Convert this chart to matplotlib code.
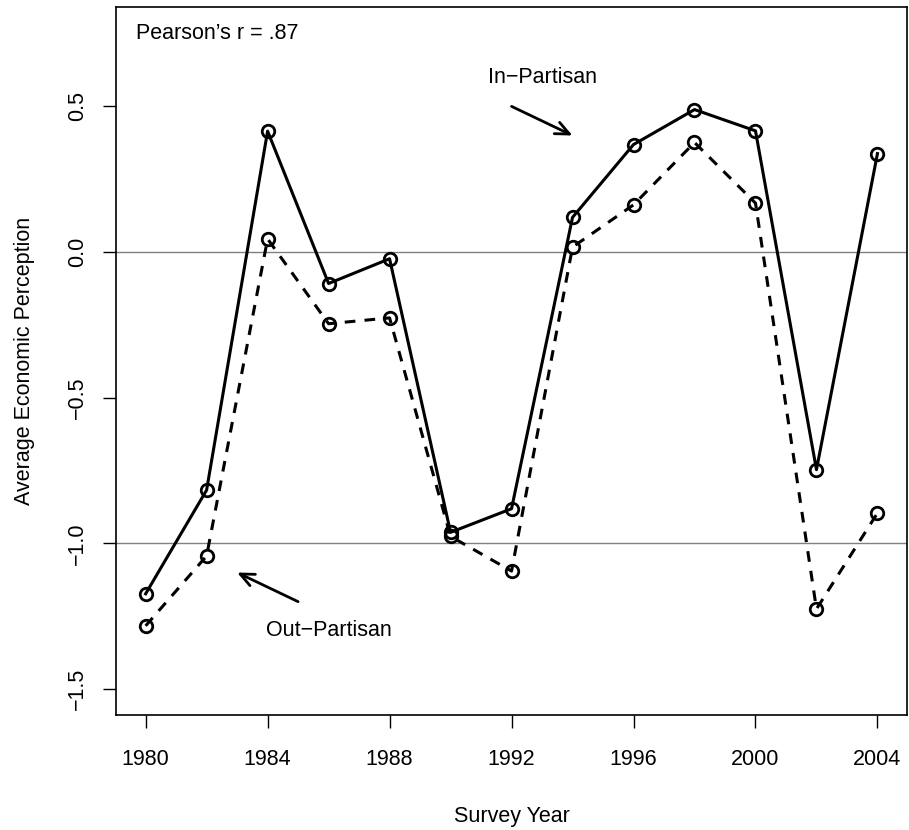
import matplotlib
matplotlib.use("Agg")
import matplotlib.pyplot as plt

plt.rcParams['font.family'] = ['Liberation Sans', 'DejaVu Sans']

years = [1980, 1982, 1984, 1986, 1988, 1990, 1992, 1994, 1996, 1998, 2000, 2002, 2004]
in_partisan = [-1.173, -0.817, 0.415, -0.108, -0.023, -0.962, -0.881,
               0.119, 0.369, 0.489, 0.416, -0.747, 0.338]
out_partisan = [-1.283, -1.043, 0.045, -0.246, -0.226, -0.976, -1.095,
                0.017, 0.162, 0.376, 0.168, -1.225, -0.896]

xticks = [1980, 1984, 1988, 1992, 1996, 2000, 2004]
yticks = [-1.5, -1.0, -0.5, 0.0, 0.5]
fs = 15.5

fig = plt.figure(figsize=(9.09, 8.30), dpi=100)
ax = fig.add_axes([0.128, 0.1382, 0.8695, 0.8530])

ax.axhline(0, color='#808080', lw=1.0, zorder=1)
ax.axhline(-1, color='#808080', lw=1.0, zorder=1)

ax.plot(years, in_partisan, color='black', lw=2.2, marker='o', ms=9,
        mfc='none', mec='black', mew=2.0, zorder=3)
ax.plot(years, out_partisan, color='black', lw=2.2, ls=(0, (3.5, 3.0)),
        marker='o', ms=9, mfc='none', mec='black', mew=2.0, zorder=3)

ax.set_xlim(1979.04, 2004.96)
ax.set_ylim(-1.59, 0.84)
ax.set_xticks(xticks)
ax.set_yticks(yticks)
ax.set_xticklabels([str(x) for x in xticks], fontsize=fs)
ax.set_yticklabels([f"{y:.1f}".replace("-", "\u2212") for y in yticks],
                   fontsize=fs, rotation=90, va='center')
ax.tick_params(axis='both', direction='out', length=9.5, width=1.0, pad=11)
ax.tick_params(axis='x', pad=15)
for s in ax.spines.values():
    s.set_linewidth(1.2)

ax.set_xlabel("Survey Year", fontsize=fs, labelpad=26)
ax.set_ylabel("Average Economic Perception", fontsize=fs, labelpad=23)

ax.text(1979.67, 0.75, "Pearson\u2019s r = .87", fontsize=fs, ha='left', va='center')

ax.text(1993, 0.6, "In\u2212Partisan", fontsize=fs, ha='center', va='center')
ax.annotate("", xy=(1994, 0.4), xytext=(1992, 0.5),
            arrowprops=dict(arrowstyle='->,head_length=1.0,head_width=0.45', lw=2.0, color='black',
                            shrinkA=0, shrinkB=0))

ax.text(1986, -1.3, "Out\u2212Partisan", fontsize=fs, ha='center', va='center')
ax.annotate("", xy=(1983, -1.1), xytext=(1985, -1.2),
            arrowprops=dict(arrowstyle='->,head_length=1.0,head_width=0.45', lw=2.0, color='black',
                            shrinkA=0, shrinkB=0))

fig.savefig("out.png", dpi=100)
